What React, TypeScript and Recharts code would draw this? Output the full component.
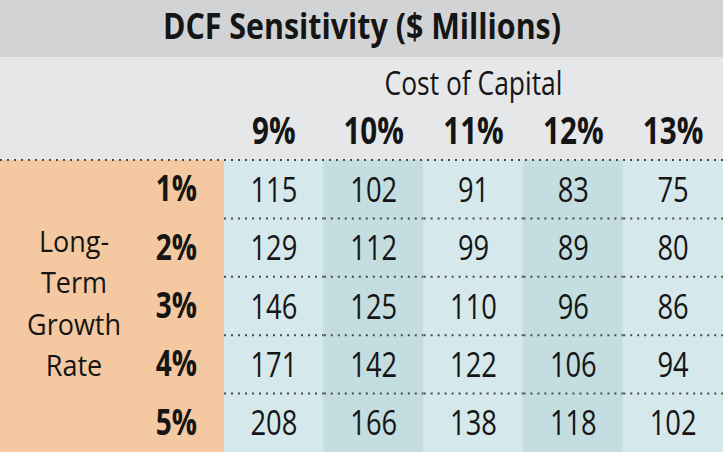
import { ScatterChart, Scatter, XAxis, YAxis } from 'recharts'

const title = 'DCF Sensitivity ($ Millions)'
const colTitle = 'Cost of Capital'
const rowTitle = ['Long-', 'Term', 'Growth', 'Rate']
const costOfCapital = ['9%', '10%', '11%', '12%', '13%']
const growthRates = ['1%', '2%', '3%', '4%', '5%']
const growth1 = [115, 102, 91, 83, 75]
const growth2 = [129, 112, 99, 89, 80]
const growth3 = [146, 125, 110, 96, 86]
const growth4 = [171, 142, 122, 106, 94]
const growth5 = [208, 166, 138, 118, 102]

const W = 723, H = 452
const LEFT = 224, TOP = 160
const cellW = (W - LEFT) / costOfCapital.length
const cellH = (H - TOP) / growthRates.length
const FONT = "'Open Sans', Lato, sans-serif"
const INK = '#151515'
const DOTS = '#4a4a4a'
const SQUEEZE = 0.8 // the original uses a condensed face

const cells = [growth1, growth2, growth3, growth4, growth5].flatMap((row, r) =>
  row.map((value, c) => ({ c, r, value })))

// text drawn narrower around its anchor point
function T({ x, y, sx = SQUEEZE, children, ...rest }: any) {
  return (
    <text transform={`translate(${x},${y}) scale(${sx},1)`} fontFamily={FONT} fill={INK} {...rest}>
      {children}
    </text>
  )
}

function DataCell(props: any) {
  const { cx, cy, payload } = props
  const fill = payload.c % 2 ? '#c3dde1' : '#d5e8eb'
  return (
    <g>
      <rect x={cx - cellW / 2 - 0.5} y={cy - cellH / 2 - 0.5} width={cellW + 1} height={cellH + 1} fill={fill} />
      {payload.r > 0 && (
        <line x1={cx - cellW / 2} x2={cx + cellW / 2} y1={cy - cellH / 2} y2={cy - cellH / 2}
          stroke={DOTS} strokeWidth={2} strokeDasharray="2 5" />
      )}
      <T x={cx} y={cy + 12.5} sx={0.78} textAnchor="middle" fontSize={35}>{payload.value}</T>
    </g>
  )
}

const ColTick = (p: any) => (
  <T x={p.x} y={p.y - 16} textAnchor="middle" fontWeight={700} fontSize={37}>
    {costOfCapital[p.payload.value]}
  </T>
)

const RowTick = (p: any) => (
  <T x={p.x - 27} y={p.y + 12} textAnchor="end" fontWeight={700} fontSize={35}>
    {growthRates[p.payload.value]}
  </T>
)

export default function App() {
  return (
    <div style={{ position: 'absolute', left: 0, top: 0, width: W, height: H, overflow: 'hidden', background: '#e6e7e9' }}>
      <div style={{ position: 'absolute', left: 0, top: 0, width: W, height: 57, background: '#d2d3d5' }} />
      <div style={{ position: 'absolute', left: 0, top: TOP, width: LEFT, height: H - TOP, background: '#f4c8a0' }} />
      <div style={{ position: 'absolute', left: 0, top: 0 }}>
        <ScatterChart width={W} height={H} margin={{ top: TOP - 40, right: 0, bottom: 0, left: 0 }}>
          <XAxis type="number" dataKey="c" orientation="top" height={40} domain={[-0.5, 4.5]} allowDataOverflow
            ticks={costOfCapital.map((_, i) => i)} interval={0} axisLine={false} tickLine={false} tickSize={0} tickMargin={0}
            tick={(p: any) => <ColTick {...p} />} />
          <YAxis type="number" dataKey="r" width={LEFT} domain={[-0.5, 4.5]} allowDataOverflow reversed
            ticks={growthRates.map((_, i) => i)} interval={0} axisLine={false} tickLine={false} tickSize={0} tickMargin={0}
            tick={(p: any) => <RowTick {...p} />} />
          <Scatter data={cells} shape={(p: any) => <DataCell {...p} />} isAnimationActive={false} />
        </ScatterChart>
      </div>
      <svg width={W} height={H} style={{ position: 'absolute', left: 0, top: 0, pointerEvents: 'none' }}>
        <text x={362} y={39} textAnchor="middle" fontFamily={FONT} fontWeight={700} fontSize={36} fill={INK}
          textLength={398} lengthAdjust="spacingAndGlyphs">{title}</text>
        <T x={LEFT + (W - LEFT) / 2} y={95} textAnchor="middle" fontSize={33}>{colTitle}</T>
        {rowTitle.map((t, i) => (
          <T key={t} x={74} y={252 + i * 41.3} sx={0.9} textAnchor="middle" fontSize={30}>{t}</T>
        ))}
        <line x1={0} x2={W} y1={TOP} y2={TOP} stroke={DOTS} strokeWidth={2} strokeDasharray="2 5" />
      </svg>
    </div>
  )
}
